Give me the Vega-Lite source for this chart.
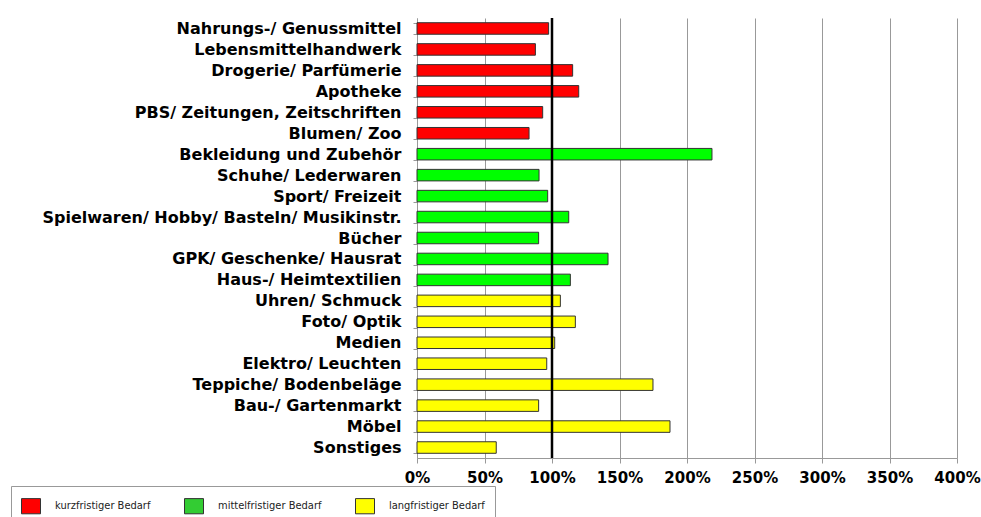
{
  "$schema": "https://vega.github.io/schema/vega-lite/v6.json",
  "width": 540,
  "height": 440,
  "autosize": {"type": "pad"},
  "padding": {"left": 10, "top": 10, "right": 3, "bottom": 0},
  "background": "white",
  "config": {"view": {"stroke": null}},
  "data": {
    "values": [
      {"Sortiment": "Nahrungs-/ Genussmittel", "Bedarf": "kurzfristiger Bedarf", "Wert": 97.5},
      {"Sortiment": "Lebensmittelhandwerk", "Bedarf": "kurzfristiger Bedarf", "Wert": 87.7},
      {"Sortiment": "Drogerie/ Parfümerie", "Bedarf": "kurzfristiger Bedarf", "Wert": 115.3},
      {"Sortiment": "Apotheke", "Bedarf": "kurzfristiger Bedarf", "Wert": 119.8},
      {"Sortiment": "PBS/ Zeitungen, Zeitschriften", "Bedarf": "kurzfristiger Bedarf", "Wert": 93.1},
      {"Sortiment": "Blumen/ Zoo", "Bedarf": "kurzfristiger Bedarf", "Wert": 83.0},
      {"Sortiment": "Bekleidung und Zubehör", "Bedarf": "mittelfristiger Bedarf", "Wert": 218.5},
      {"Sortiment": "Schuhe/ Lederwaren", "Bedarf": "mittelfristiger Bedarf", "Wert": 90.4},
      {"Sortiment": "Sport/ Freizeit", "Bedarf": "mittelfristiger Bedarf", "Wert": 96.8},
      {"Sortiment": "Spielwaren/ Hobby/ Basteln/ Musikinstr.", "Bedarf": "mittelfristiger Bedarf", "Wert": 112.4},
      {"Sortiment": "Bücher", "Bedarf": "mittelfristiger Bedarf", "Wert": 90.1},
      {"Sortiment": "GPK/ Geschenke/ Hausrat", "Bedarf": "mittelfristiger Bedarf", "Wert": 141.5},
      {"Sortiment": "Haus-/ Heimtextilien", "Bedarf": "mittelfristiger Bedarf", "Wert": 113.6},
      {"Sortiment": "Uhren/ Schmuck", "Bedarf": "langfristiger Bedarf", "Wert": 106.2},
      {"Sortiment": "Foto/ Optik", "Bedarf": "langfristiger Bedarf", "Wert": 117.3},
      {"Sortiment": "Medien", "Bedarf": "langfristiger Bedarf", "Wert": 102.0},
      {"Sortiment": "Elektro/ Leuchten", "Bedarf": "langfristiger Bedarf", "Wert": 96.1},
      {"Sortiment": "Teppiche/ Bodenbeläge", "Bedarf": "langfristiger Bedarf", "Wert": 174.8},
      {"Sortiment": "Bau-/ Gartenmarkt", "Bedarf": "langfristiger Bedarf", "Wert": 90.1},
      {"Sortiment": "Möbel", "Bedarf": "langfristiger Bedarf", "Wert": 187.4},
      {"Sortiment": "Sonstiges", "Bedarf": "langfristiger Bedarf", "Wert": 58.7}
    ]
  },
  "encoding": {
    "y": {
      "field": "Sortiment",
      "type": "nominal",
      "sort": null,
      "scale": {"paddingInner": 0.45, "paddingOuter": 0.225},
      "axis": {
        "title": null,
        "domainColor": "#999999",
        "tickColor": "#999999",
        "tickSize": 4,
        "tickBand": "extent",
        "labelFont": "DejaVu Sans",
        "labelFontWeight": "bold",
        "labelFontSize": 16,
        "labelColor": "black",
        "labelPadding": 12,
        "labelLimit": 600,
        "grid": false
      }
    },
    "x": {
      "field": "Wert",
      "type": "quantitative",
      "scale": {"domain": [0, 400], "nice": false},
      "axis": {
        "title": null,
        "values": [0, 50, 100, 150, 200, 250, 300, 350, 400],
        "labelExpr": "datum.value + '%'",
        "grid": true,
        "gridColor": "#999999",
        "domainColor": "#999999",
        "tickColor": "#999999",
        "tickSize": 5,
        "labelFont": "DejaVu Sans",
        "labelFontWeight": "bold",
        "labelFontSize": 15,
        "labelColor": "black",
        "labelPadding": 7,
        "labelFlush": false
      }
    }
  },
  "layer": [
    {
      "mark": {"type": "bar", "stroke": "#333333", "strokeWidth": 1},
      "encoding": {
        "color": {
          "field": "Bedarf",
          "type": "nominal",
          "scale": {
            "domain": ["kurzfristiger Bedarf", "langfristiger Bedarf", "mittelfristiger Bedarf"],
            "range": ["#ff0000", "#ffff00", "#00ff00"]
          },
          "legend": null
        }
      }
    },
    {
      "data": {"values": []},
      "mark": {"type": "bar", "stroke": "#333333", "strokeWidth": 1},
      "encoding": {
        "fill": {
          "field": "Bedarf",
          "type": "nominal",
          "scale": {
            "domain": ["kurzfristiger Bedarf", "mittelfristiger Bedarf", "langfristiger Bedarf"],
            "range": ["#ff0000", "#33cc33", "#ffff00"]
          },
          "legend": {
            "title": null,
            "orient": "none",
            "legendX": -406,
            "legendY": 468,
            "direction": "horizontal",
            "columns": 3,
            "columnPadding": 31,
            "padding": 10,
            "strokeColor": "#999999",
            "fillColor": "white",
            "symbolType": "M-1,-0.8H1V0.8H-1Z",
            "symbolSize": 361,
            "symbolStrokeColor": "#333333",
            "symbolStrokeWidth": 1,
            "symbolOpacity": 1,
            "labelFont": "DejaVu Sans Condensed, DejaVu Sans",
            "labelFontSize": 11,
            "labelColor": "#222222",
            "labelOffset": 14
          }
        }
      }
    },
    {
      "data": {"values": [{"Referenz": 100}]},
      "mark": {"type": "rule", "color": "black", "strokeWidth": 2.5},
      "encoding": {"x": {"field": "Referenz", "type": "quantitative"}, "y": null}
    }
  ]
}
